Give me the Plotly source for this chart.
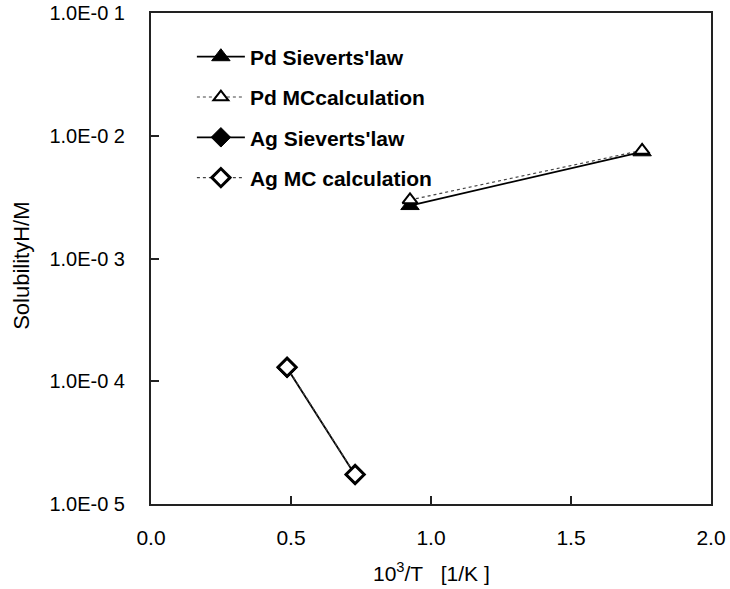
import plotly.graph_objects as go

# Data
pd_x = [0.925, 1.754]
pd_sieverts = [2.7e-3, 7.4e-3]
pd_mc = [3.0e-3, 7.6e-3]

ag_x = [0.486, 0.729]
ag_sieverts = [1.28e-4, 1.72e-5]
ag_mc = [1.30e-4, 1.74e-5]

ytick_vals = [1e-5, 1e-4, 1e-3, 1e-2, 1e-1]
ytick_text = ["1.0E-0 5", "1.0E-0 4", "1.0E-0 3", "1.0E-0 2", "1.0E-0 1"]
xtick_vals = [0.0, 0.5, 1.0, 1.5, 2.0]
xtick_text = ["0.0", "0.5", "1.0", "1.5", "2.0"]

FONT = "Liberation Sans, Arial, sans-serif"

fig = go.Figure()
fig.add_trace(go.Scatter(
    x=pd_x, y=pd_sieverts, name="Pd Sieverts'law", legendgroup="a",
    mode="lines+markers",
    line=dict(color="black", width=1.8),
    marker=dict(symbol="triangle-up", size=16, color="black",
                line=dict(color="black", width=1)),
))
fig.add_trace(go.Scatter(
    x=pd_x, y=pd_mc, name="Pd MCcalculation", legendgroup="b",
    mode="lines+markers",
    line=dict(color="#444444", width=1.2, dash="dot"),
    marker=dict(symbol="triangle-up", size=13, color="white",
                line=dict(color="black", width=2)),
))
fig.add_trace(go.Scatter(
    x=ag_x, y=ag_sieverts, name="Ag Sieverts'law", legendgroup="c",
    mode="lines+markers",
    line=dict(color="black", width=1.8),
    marker=dict(symbol="diamond", size=15, color="black",
                line=dict(color="black", width=1)),
))
fig.add_trace(go.Scatter(
    x=ag_x, y=ag_mc, name="Ag MC calculation", legendgroup="d",
    mode="lines+markers",
    line=dict(color="#444444", width=1.2, dash="dot"),
    marker=dict(symbol="diamond", size=14, color="white",
                line=dict(color="black", width=3)),
))

fig.update_layout(
    width=730, height=589,
    margin=dict(l=151, r=19, t=13, b=85),
    paper_bgcolor="white", plot_bgcolor="white",
    font=dict(family=FONT, size=20, color="black"),
    showlegend=True,
    legend=dict(
        x=0.073, y=0.952, xanchor="left", yanchor="top",
        bgcolor="rgba(0,0,0,0)",
        font=dict(family=FONT, size=21, color="black", weight="bold"),
        itemwidth=48, tracegroupgap=10,
    ),
    xaxis=dict(
        range=[0, 2], tickvals=xtick_vals, ticktext=xtick_text,
        ticks="inside", ticklen=8, tickwidth=1.5, tickcolor="#222",
        showline=True, linecolor="#222", linewidth=2, mirror=True,
        showgrid=False, zeroline=False, automargin=False,
        tickfont=dict(size=21), ticklabelstandoff=14,
    ),
    yaxis=dict(
        type="log", range=[-5, -1], tickvals=ytick_vals, ticktext=ytick_text,
        ticks="inside", ticklen=8, tickwidth=1.5, tickcolor="#222",
        showline=True, linecolor="#222", linewidth=2, mirror=True,
        showgrid=False, zeroline=False, automargin=False,
        tickfont=dict(size=20), ticklabelstandoff=20,
    ),
    annotations=[
        dict(text="10<sup>3</sup>/T\u00a0\u00a0\u00a0[1/K ]", xref="paper", yref="paper",
             x=0.5, y=-0.1385, xanchor="center", yanchor="middle", showarrow=False,
             font=dict(size=21)),
        dict(text="SolubilityH/M", xref="paper", yref="paper", textangle=-90,
             x=-0.2304, y=0.485, xanchor="center", yanchor="middle", showarrow=False,
             font=dict(size=22)),
    ],
)

fig.write_html("out.html")
